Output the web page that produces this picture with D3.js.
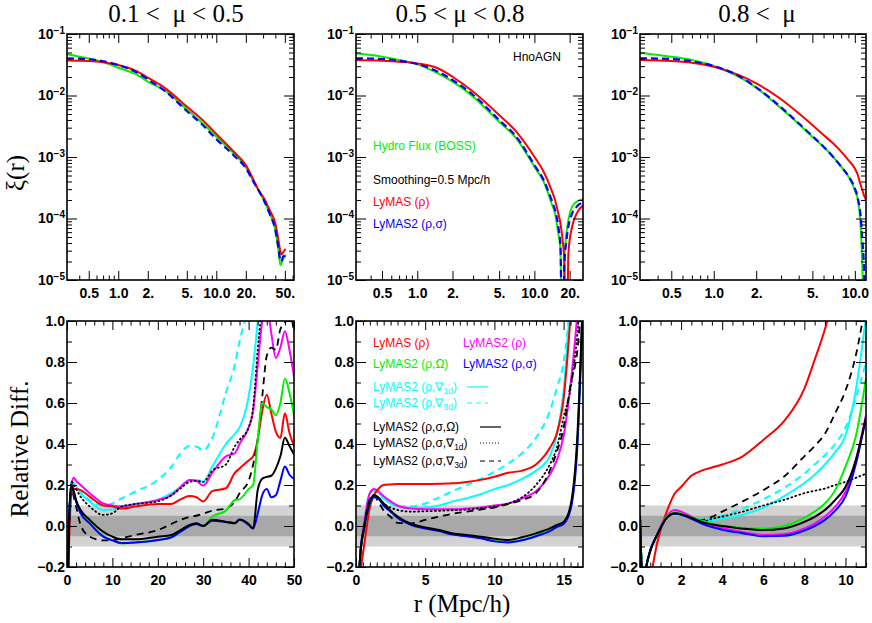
<!DOCTYPE html>
<html lang="en">
<head>
    <meta charset="UTF-8">
    <title>LyMAS: xi(r) and relative difference</title>
    <script src="https://cdnjs.cloudflare.com/ajax/libs/d3/7.8.5/d3.min.js" charset="utf-8"></script>
    <style>
        body { margin: 0; background: #fff; }
        svg { display: block; }
        .big { font-family: "Liberation Serif", "Times New Roman", serif; font-size: 25px; white-space: pre; }
        .leg { font-family: "Liberation Sans", Arial, Helvetica, sans-serif; font-size: 12px; }
    </style>
</head>
<body>
<svg id="chart" width="872" height="623"></svg>
<script>
    // ---------- panel titles and tick labels ----------
    var muTitles = ["0.1 <  \u03bc < 0.5", "0.5 < \u03bc < 0.8", "0.8 <  \u03bc"];
    var topXMax = [62, 26, 12];
    var topXTicks = [[0.5, 1, 2, 5, 10, 20, 50], [0.5, 1, 2, 5, 10, 20], [0.5, 1, 2, 5, 10]];
    var topXLabels = ["0.5", "1.0", "2.", "5.", "10.0", "20.", "50."];
    var logYTicks = [1e-5, 1e-4, 1e-3, 1e-2, 1e-1];
    var logYExp = ["\u22125", "\u22124", "\u22123", "\u22122", "\u22121"];
    var botXMax = [50, 16.4, 11];
    var botXTicks = [[0, 10, 20, 30, 40, 50], [0, 5, 10, 15], [0, 2, 4, 6, 8, 10]];
    var botXStep = [2, 0.5, 0.5];
    var relTicks = [-0.2, 0, 0.2, 0.4, 0.6, 0.8, 1.0];
    var relLabels = ["\u22120.2", "0.0", "0.2", "0.4", "0.6", "0.8", "1.0"];

    // ---------- top row: xi(r) ----------
    var rTop1 = [0.3, 0.5, 0.7, 1, 1.5, 2, 3, 5, 7, 10, 15, 20, 25, 28, 30, 35, 40, 43, 45, 46, 48, 50, 51];
    var hydroTop1 = [0.047, 0.040, 0.035, 0.0283, 0.0224, 0.0168, 0.0120, 0.00596, 0.0037, 0.00214, 0.00115, 6.9e-4, 3.5e-4, 2.6e-4, 2.1e-4, 1.2e-4, 6.5e-5, 3.1e-5, 1.75e-5, 1.85e-5, 2.2e-5, 2.4e-5, 2.6e-5];
    var lymasTop1 = [0.037, 0.0363, 0.0347, 0.0313, 0.0253, 0.0195, 0.0132, 0.0066, 0.0042, 0.00237, 0.00123, 7.4e-4, 3.7e-4, 2.6e-4, 2.26e-4, 1.38e-4, 8.3e-5, 4.5e-5, 2.9e-5, 2.6e-5, 2.8e-5, 3.1e-5, 3.2e-5];
    var lymas2Top1 = [0.040, 0.0389, 0.036, 0.0313, 0.0244, 0.0183, 0.0118, 0.0056, 0.0035, 0.00195, 0.00107, 6.6e-4, 3.5e-4, 2.6e-4, 2.1e-4, 1.2e-4, 6.5e-5, 3.3e-5, 2.1e-5, 2.0e-5, 2.4e-5, 2.5e-5, 2.8e-5];

    var rTop2 = [0.3, 0.5, 0.7, 1, 1.5, 2, 3, 5, 7, 10, 12, 14, 15, 16, 16.7, 17.4, 18, 18.8, 19.5, 21, 23, 27];
    var hydroTop2 = [0.0485, 0.0428, 0.0378, 0.0321, 0.0229, 0.0168, 0.00957, 0.00375, 0.00201, 6.97e-4, 3.97e-4, 1.77e-4, 1.21e-4, 5.7e-5, 3.1e-5, 1e-7, 2.1e-5, 5.7e-5, 9.5e-5, 1.56e-4, 1.88e-4, 2.1e-4];
    var lymasTop2 = [0.0378, 0.0368, 0.0355, 0.0333, 0.0277, 0.0202, 0.01153, 0.00482, 0.00258, 0.00101, 5.77e-4, 2.9e-4, 2.0e-4, 1.21e-4, 8.3e-5, 4.5e-5, 2.1e-5, 1e-7, 2.7e-5, 7.4e-5, 1.21e-4, 1.72e-4];
    var lymas2Top2 = [0.0402, 0.0392, 0.0368, 0.0325, 0.0244, 0.0179, 0.0102, 0.0040, 0.00214, 7.4e-4, 4.22e-4, 2.0e-4, 1.37e-4, 7.4e-5, 3.5e-5, 1e-7, 1.65e-5, 4.5e-5, 7.4e-5, 1.21e-4, 1.56e-4, 1.88e-4];

    var rTop3 = [0.3, 0.5, 0.7, 1, 1.5, 2, 3, 4, 5, 6, 7, 8, 9, 10, 10.5, 11, 11.3, 11.6, 12];
    var hydroTop3 = [0.0497, 0.0428, 0.0378, 0.0302, 0.0202, 0.0134, 0.00618, 0.00344, 0.00214, 0.00147, 0.00101, 6.97e-4, 4.8e-4, 2.9e-4, 2.0e-4, 7.4e-5, 1.65e-5, 1e-6, 1e-7];
    var lymasTop3 = [0.0378, 0.0364, 0.0342, 0.0294, 0.0216, 0.0158, 0.00867, 0.00513, 0.00331, 0.00228, 0.00167, 0.00122, 8.9e-4, 6.5e-4, 5.1e-4, 3.5e-4, 2.9e-4, 2.4e-4, 2.0e-4];
    var lymas2Top3 = [0.0402, 0.0392, 0.036, 0.0302, 0.0208, 0.0136, 0.00643, 0.00353, 0.00219, 0.00147, 0.00101, 6.97e-4, 4.9e-4, 3.1e-4, 2.13e-4, 1.07e-4, 4.5e-5, 1.65e-5, 1e-7];

    // ---------- bottom row: relative difference ----------
    var rBot1 = [0, 0.5, 1, 1.5, 2, 3, 5, 8, 10, 12, 15, 20, 23, 25, 27, 28.5, 30, 32, 35, 37, 38, 40, 41, 42, 43, 44, 45, 46, 47, 48, 49, 50];
    var relRed1 = [-0.5, -0.05, 0.16, 0.18, 0.18, 0.175, 0.143, 0.10, 0.095, 0.085, 0.095, 0.107, 0.107, 0.13, 0.146, 0.14, 0.12, 0.17, 0.184, 0.26, 0.28, 0.32, 0.34, 0.42, 0.56, 0.64, 0.55, 0.46, 0.43, 0.55, 0.455, 0.39];
    var relMag1 = [-0.5, 0.05, 0.2, 0.235, 0.22, 0.2, 0.16, 0.11, 0.1, 0.095, 0.107, 0.127, 0.15, 0.19, 0.225, 0.22, 0.197, 0.26, 0.34, 0.355, 0.4, 0.48, 0.56, 0.78, 1.0, 1.08, 0.94, 0.82, 0.87, 0.95, 0.86, 0.73];
    var relGreen1 = [-0.5, 0.05, 0.19, 0.16, 0.12, 0.065, 0.015, -0.05, -0.07, -0.085, -0.08, -0.07, -0.055, -0.03, 0.0, 0.01, 0.0, 0.046, 0.075, 0.127, 0.13, 0.18, 0.2, 0.42, 0.6, 0.58, 0.57, 0.54, 0.6, 0.72, 0.65, 0.54];
    var relBlue1 = [-0.5, 0.05, 0.19, 0.16, 0.12, 0.062, 0.013, -0.052, -0.07, -0.083, -0.08, -0.068, -0.055, -0.028, 0.0, 0.01, 0.0, 0.026, 0.02, 0.015, 0.032, 0.005, -0.012, 0.06, 0.15, 0.18, 0.14, 0.15, 0.22, 0.29, 0.25, 0.23];
    var relCyan1 = [-0.5, 0.05, 0.22, 0.21, 0.195, 0.16, 0.12, 0.078, 0.08, 0.09, 0.107, 0.127, 0.16, 0.19, 0.225, 0.225, 0.216, 0.29, 0.4, 0.45, 0.48, 0.63, 0.78, 1.0, 1.3, 1.5, 1.5, 1.5, 1.5, 1.5, 1.5, 1.5];
    var relCyan3d1 = [-0.5, 0.05, 0.215, 0.2, 0.19, 0.167, 0.127, 0.10, 0.11, 0.135, 0.167, 0.225, 0.29, 0.355, 0.39, 0.387, 0.37, 0.43, 0.65, 0.79, 0.9, 1.1, 1.3, 1.5, 1.5, 1.5, 1.5, 1.5, 1.5, 1.5, 1.5, 1.5];
    var relBlkO1 = [-0.5, 0.05, 0.2, 0.17, 0.127, 0.078, 0.03, -0.028, -0.052, -0.065, -0.065, -0.052, -0.044, -0.02, 0.005, 0.013, 0.0, 0.03, 0.02, 0.013, 0.03, 0.01, -0.012, 0.175, 0.23, 0.24, 0.245, 0.28, 0.34, 0.43, 0.39, 0.35];
    var relBlk1d1 = [-0.5, 0.05, 0.215, 0.2, 0.18, 0.143, 0.095, 0.054, 0.062, 0.095, 0.107, 0.12, 0.15, 0.183, 0.215, 0.22, 0.215, 0.27, 0.3, 0.39, 0.42, 0.48, 0.58, 0.86, 1.1, 1.5, 1.5, 1.5, 1.5, 1.5, 1.5, 1.5];
    var relBlk3d1 = [-0.5, 0.0, 0.18, 0.14, 0.095, 0.005, -0.052, -0.07, -0.07, -0.06, -0.044, -0.02, 0.01, 0.03, 0.045, 0.05, 0.06, 0.075, 0.086, 0.12, 0.16, 0.22, 0.3, 0.42, 0.63, 0.83, 0.87, 0.86, 0.96, 0.99, 1.05, 0.94];

    var rBot2 = [0, 0.3, 0.6, 1, 1.3, 1.6, 2, 2.5, 3, 4, 5, 6, 7, 8, 9, 10, 11, 12, 13, 14, 14.5, 15, 15.5, 16, 16.4];
    var relRed2 = [-0.6, -0.25, -0.09, 0.09, 0.15, 0.18, 0.2, 0.203, 0.205, 0.205, 0.205, 0.206, 0.208, 0.215, 0.225, 0.24, 0.26, 0.27, 0.3, 0.38, 0.45, 0.62, 1.02, 1.5, 2.0];
    var relMag2 = [-0.6, -0.15, 0.02, 0.16, 0.18, 0.17, 0.145, 0.12, 0.1, 0.085, 0.082, 0.082, 0.082, 0.085, 0.09, 0.1, 0.11, 0.135, 0.17, 0.25, 0.32, 0.44, 0.69, 1.05, 1.5];
    var relGreen2 = [-0.6, -0.15, -0.01, 0.11, 0.14, 0.135, 0.1, 0.072, 0.042, 0.008, -0.01, -0.022, -0.04, -0.048, -0.058, -0.073, -0.078, -0.068, -0.048, -0.022, -0.003, 0.015, 0.09, 0.42, 1.1];
    var relBlue2 = [-0.6, -0.15, -0.01, 0.11, 0.14, 0.135, 0.1, 0.07, 0.04, 0.005, -0.012, -0.025, -0.042, -0.05, -0.06, -0.075, -0.08, -0.07, -0.05, -0.025, -0.005, 0.01, 0.08, 0.4, 1.1];
    var relCyan2 = [-0.6, -0.15, 0.02, 0.16, 0.175, 0.165, 0.135, 0.11, 0.095, 0.087, 0.09, 0.1, 0.12, 0.135, 0.155, 0.18, 0.2, 0.23, 0.27, 0.34, 0.44, 0.66, 1.1, 1.5, 2.0];
    var relCyan3d2 = [-0.6, -0.15, 0.02, 0.16, 0.175, 0.165, 0.135, 0.11, 0.095, 0.095, 0.11, 0.14, 0.17, 0.2, 0.23, 0.265, 0.305, 0.355, 0.43, 0.56, 0.67, 0.8, 1.1, 1.5, 2.0];
    var relBlkO2 = [-0.6, -0.15, 0.0, 0.12, 0.15, 0.14, 0.11, 0.075, 0.046, 0.01, -0.007, -0.02, -0.036, -0.044, -0.052, -0.062, -0.068, -0.055, -0.036, -0.012, 0.005, 0.02, 0.1, 0.45, 1.15];
    var relBlk1d2 = [-0.6, -0.15, 0.0, 0.13, 0.15, 0.14, 0.11, 0.09, 0.078, 0.07, 0.072, 0.074, 0.077, 0.08, 0.087, 0.095, 0.11, 0.14, 0.2, 0.3, 0.38, 0.53, 0.67, 0.94, 1.3];
    var relBlk3d2 = [-0.6, -0.15, 0.0, 0.13, 0.15, 0.12, 0.075, 0.045, 0.015, 0.013, 0.03, 0.046, 0.06, 0.07, 0.08, 0.09, 0.107, 0.127, 0.16, 0.27, 0.36, 0.48, 0.69, 0.86, 1.2];

    var rBot3 = [0, 0.15, 0.3, 0.5, 0.8, 1, 1.3, 1.7, 2, 2.5, 3, 3.5, 4, 5, 6, 7, 8, 8.5, 9, 9.5, 10, 10.5, 11];
    var relRed3 = [-0.8, -0.6, -0.45, -0.28, -0.1, -0.02, 0.07, 0.16, 0.19, 0.245, 0.27, 0.285, 0.3, 0.34, 0.42, 0.51, 0.67, 0.81, 0.96, 1.15, 1.4, 1.7, 2.0];
    var relMag3 = [0.05, -0.3, -0.2, -0.12, -0.05, 0.0, 0.05, 0.078, 0.07, 0.046, 0.02, 0.005, -0.01, -0.03, -0.044, -0.04, -0.012, 0.012, 0.046, 0.094, 0.167, 0.32, 0.54];
    var relGreen3 = [0.05, -0.3, -0.2, -0.12, -0.05, -0.005, 0.045, 0.065, 0.06, 0.042, 0.026, 0.012, 0.002, -0.01, -0.013, 0.0, 0.04, 0.07, 0.11, 0.175, 0.29, 0.435, 0.72];
    var relBlue3 = [0.05, -0.3, -0.2, -0.12, -0.05, -0.01, 0.04, 0.06, 0.055, 0.035, 0.012, -0.005, -0.018, -0.035, -0.05, -0.048, -0.022, 0.0, 0.03, 0.075, 0.143, 0.3, 0.53];
    var relCyan3 = [0.05, -0.3, -0.2, -0.12, -0.05, 0.0, 0.05, 0.07, 0.062, 0.045, 0.03, 0.03, 0.036, 0.055, 0.09, 0.145, 0.21, 0.25, 0.3, 0.36, 0.44, 0.66, 1.02];
    var relCyan3d3 = [0.05, -0.3, -0.2, -0.12, -0.05, 0.0, 0.05, 0.07, 0.062, 0.045, 0.03, 0.035, 0.05, 0.085, 0.13, 0.185, 0.255, 0.3, 0.345, 0.4, 0.48, 0.62, 0.8];
    var relBlkO3 = [0.05, -0.3, -0.2, -0.12, -0.05, -0.01, 0.04, 0.062, 0.058, 0.04, 0.02, 0.008, 0.0, -0.013, -0.02, -0.012, 0.02, 0.045, 0.078, 0.127, 0.19, 0.32, 0.53];
    var relBlk1d3 = [0.05, -0.3, -0.2, -0.12, -0.05, -0.01, 0.04, 0.062, 0.058, 0.04, 0.02, 0.035, 0.046, 0.07, 0.1, 0.127, 0.16, 0.172, 0.183, 0.2, 0.215, 0.235, 0.255];
    var relBlk3d3 = [0.05, -0.3, -0.2, -0.12, -0.05, -0.01, 0.04, 0.06, 0.058, 0.04, 0.03, 0.045, 0.07, 0.12, 0.175, 0.24, 0.34, 0.39, 0.45, 0.55, 0.66, 0.83, 1.1];

    // ---------- layout ----------
    var svg = d3.select("#chart");
    var topY = [34, 280], botY = [321, 567];
    var cols = [[67, 294], [356, 583], [640, 866]];
    var titleX = [176, 460, 757];
    var sans = "'Liberation Sans', Arial, Helvetica, sans-serif";

    var topStyles = [
        {color: "#00ee00", width: 2},
        {color: "#ff0000", width: 2},
        {color: "#0000ff", width: 2.2, dash: "7,4"}
    ];
    // drawing order for the bottom row
    var botStyles = {
        cyan3d: {color: "#00ffff", width: 2, dash: "7,5"},
        cyan: {color: "#00ffff", width: 2},
        mag: {color: "#ff00ff", width: 2},
        red: {color: "#ff0000", width: 2},
        blk1d: {color: "#000", width: 1.8, dash: "1,3.2", cap: "round"},
        blk3d: {color: "#000", width: 1.8, dash: "7,5"},
        green: {color: "#00ee00", width: 2},
        blue: {color: "#0000ff", width: 2},
        blkO: {color: "#000", width: 2}
    };
    var botSets = [
        {r: rBot1, cyan3d: relCyan3d1, cyan: relCyan1, mag: relMag1, red: relRed1, blk1d: relBlk1d1, blk3d: relBlk3d1, green: relGreen1, blue: relBlue1, blkO: relBlkO1},
        {r: rBot2, cyan3d: relCyan3d2, cyan: relCyan2, mag: relMag2, red: relRed2, blk1d: relBlk1d2, blk3d: relBlk3d2, green: relGreen2, blue: relBlue2, blkO: relBlkO2},
        {r: rBot3, cyan3d: relCyan3d3, cyan: relCyan3, mag: relMag3, red: relRed3, blk1d: relBlk1d3, blk3d: relBlk3d3, green: relGreen3, blue: relBlue3, blkO: relBlkO3}
    ];
    var topSets = [
        {r: rTop1, s: [hydroTop1, lymasTop1, lymas2Top1]},
        {r: rTop2, s: [hydroTop2, lymasTop2, lymas2Top2]},
        {r: rTop3, s: [hydroTop3, lymasTop3, lymas2Top3]}
    ];

    function logMinor(dom, major) {
        var out = [];
        for (var e = -6; e <= 2; e++) {
            for (var m = 1; m <= 9; m++) {
                var v = +(m * Math.pow(10, e)).toPrecision(6);
                if (v > dom[0] * 1.001 && v < dom[1] * 0.999 && major.indexOf(v) < 0) out.push(v);
            }
        }
        return out;
    }
    function linMinor(lo, hi, step, major) {
        return d3.range(lo, hi + 1e-9, step).map(function (v) { return +v.toFixed(4); })
            .filter(function (v) { return major.indexOf(v) < 0; });
    }

    function styleAxis(sel) {
        sel.attr("font-family", sans).attr("font-size", 14).attr("font-weight", "bold");
        sel.select(".domain").remove();
        sel.selectAll("line").attr("stroke", "#000");
    }

    // ticks on all four sides, pointing in, labels left and bottom
    function drawAxes(g, x, y, o) {
        var xr = x.range(), yr = y.range();
        g.append("g").attr("transform", "translate(0," + yr[0] + ")")
            .call(d3.axisBottom(x).tickValues(o.xMajor).tickSizeInner(-9).tickSizeOuter(0).tickPadding(8).tickFormat(o.xFmt))
            .call(styleAxis);
        g.append("g").attr("transform", "translate(0," + yr[0] + ")")
            .call(d3.axisBottom(x).tickValues(o.xMinor).tickSizeInner(-4.5).tickSizeOuter(0).tickFormat(""))
            .call(styleAxis);
        g.append("g").attr("transform", "translate(0," + yr[1] + ")")
            .call(d3.axisTop(x).tickValues(o.xMajor).tickSizeInner(-9).tickSizeOuter(0).tickFormat(""))
            .call(styleAxis);
        g.append("g").attr("transform", "translate(0," + yr[1] + ")")
            .call(d3.axisTop(x).tickValues(o.xMinor).tickSizeInner(-4.5).tickSizeOuter(0).tickFormat(""))
            .call(styleAxis);
        var gy = g.append("g").attr("transform", "translate(" + xr[0] + ",0)")
            .call(d3.axisLeft(y).tickValues(o.yMajor).tickSizeInner(-10).tickSizeOuter(0).tickPadding(2).tickFormat(o.yFmt))
            .call(styleAxis);
        g.append("g").attr("transform", "translate(" + xr[0] + ",0)")
            .call(d3.axisLeft(y).tickValues(o.yMinor).tickSizeInner(-5).tickSizeOuter(0).tickFormat(""))
            .call(styleAxis);
        g.append("g").attr("transform", "translate(" + xr[1] + ",0)")
            .call(d3.axisRight(y).tickValues(o.yMajor).tickSizeInner(-10).tickSizeOuter(0).tickFormat(""))
            .call(styleAxis);
        g.append("g").attr("transform", "translate(" + xr[1] + ",0)")
            .call(d3.axisRight(y).tickValues(o.yMinor).tickSizeInner(-5).tickSizeOuter(0).tickFormat(""))
            .call(styleAxis);
        return gy;
    }

    function drawLine(g, x, y, rs, vals, st, clipId) {
        var line = d3.line()
            .x(function (d) { return x(d[0]); })
            .y(function (d) { return y(d[1]); })
            .curve(d3.curveMonotoneX);
        g.append("path")
            .datum(rs.map(function (r, i) { return [r, vals[i]]; }))
            .attr("clip-path", "url(#" + clipId + ")")
            .attr("d", line)
            .attr("fill", "none")
            .attr("stroke", st.color)
            .attr("stroke-width", st.width)
            .attr("stroke-dasharray", st.dash || null)
            .attr("stroke-linecap", st.cap || "butt");
    }

    function clip(id, x0, x1, y0, y1) {
        svg.append("clipPath").attr("id", id).append("rect")
            .attr("x", x0).attr("y", y0).attr("width", x1 - x0).attr("height", y1 - y0);
    }

    // ---------- top row ----------
    topSets.forEach(function (set, k) {
        var c = cols[k];
        var g = svg.append("g");
        var x = d3.scaleLog().domain([0.3, topXMax[k]]).range(c);
        var y = d3.scaleLog().domain([1e-5, 1e-1]).range([topY[1], topY[0]]);
        var id = "clipTop" + k;
        clip(id, c[0], c[1], topY[0], topY[1]);

        set.s.forEach(function (vals, j) {
            drawLine(g, x, y, set.r, vals, topStyles[j], id);
        });

        var gy = drawAxes(g, x, y, {
            xMajor: topXTicks[k],
            xMinor: logMinor([0.3, topXMax[k]], topXTicks[k]),
            xFmt: function (d) { return topXLabels[topXTicks[0].indexOf(d)]; },
            yMajor: logYTicks,
            yMinor: logMinor([1e-5, 1e-1], logYTicks),
            yFmt: function () { return "10"; }
        });
        gy.selectAll(".tick text").append("tspan")
            .attr("dy", "-0.5em").attr("font-size", 10)
            .text(function (d) { return logYExp[logYTicks.indexOf(d)]; });

        g.append("rect").attr("x", c[0]).attr("y", topY[0])
            .attr("width", c[1] - c[0]).attr("height", topY[1] - topY[0])
            .attr("fill", "none").attr("stroke", "#000").attr("stroke-width", 1.6);

        svg.append("text").attr("class", "big").attr("x", titleX[k]).attr("y", 22)
            .attr("text-anchor", "middle").text(muTitles[k]);
    });

    // ---------- bottom row ----------
    var order = ["cyan3d", "cyan", "mag", "red", "blk1d", "blk3d", "green", "blue", "blkO"];
    botSets.forEach(function (set, k) {
        var c = cols[k];
        var g = svg.append("g");
        var x = d3.scaleLinear().domain([0, botXMax[k]]).range(c);
        var y = d3.scaleLinear().domain([-0.2, 1.0]).range([botY[1], botY[0]]);
        var id = "clipBot" + k;
        clip(id, c[0], c[1], botY[0], botY[1]);

        g.append("rect").attr("x", c[0]).attr("width", c[1] - c[0])
            .attr("y", y(0.1)).attr("height", y(-0.1) - y(0.1)).attr("fill", "#d3d3d3");
        g.append("rect").attr("x", c[0]).attr("width", c[1] - c[0])
            .attr("y", y(0.05)).attr("height", y(-0.05) - y(0.05)).attr("fill", "#a8a8a8");

        order.forEach(function (key) {
            drawLine(g, x, y, set.r, set[key], botStyles[key], id);
        });

        drawAxes(g, x, y, {
            xMajor: botXTicks[k],
            xMinor: linMinor(0, botXMax[k], botXStep[k], botXTicks[k]),
            xFmt: function (d) { return String(d); },
            yMajor: relTicks,
            yMinor: linMinor(-0.2, 1.0, 0.1, relTicks),
            yFmt: function (d) { return relLabels[relTicks.indexOf(d)]; }
        });

        g.append("rect").attr("x", c[0]).attr("y", botY[0])
            .attr("width", c[1] - c[0]).attr("height", botY[1] - botY[0])
            .attr("fill", "none").attr("stroke", "#000").attr("stroke-width", 1.6);
    });

    // ---------- axis titles ----------
    svg.append("text").attr("class", "big").attr("transform", "translate(24,173) rotate(-90)")
        .attr("text-anchor", "middle").text("\u03be(r)");
    svg.append("text").attr("class", "big").attr("transform", "translate(28,449) rotate(-90)")
        .attr("text-anchor", "middle").text("Relative Diff.");
    svg.append("text").attr("class", "big").attr("x", 462).attr("y", 612)
        .attr("text-anchor", "middle").text("r (Mpc/h)");

    // ---------- legends ----------
    function label(x, y, color, pre, sub, post) {
        var t = svg.append("text").attr("class", "leg").attr("x", x).attr("y", y).attr("fill", color).text(pre);
        if (sub) {
            t.append("tspan").attr("dy", 3).attr("font-size", 8.5).text(sub);
            t.append("tspan").attr("dy", -3).text(post);
        }
        return t;
    }
    function sample(x0, x1, y, st) {
        svg.append("line").attr("x1", x0).attr("x2", x1).attr("y1", y).attr("y2", y)
            .attr("stroke", st.color).attr("stroke-width", 1.2)
            .attr("stroke-dasharray", st.dash || null).attr("stroke-linecap", st.cap || "butt");
    }

    label(513, 61, "#000", "HnoAGN");
    label(373, 150, "#00ee00", "Hydro Flux (BOSS)");
    label(373, 184, "#000", "Smoothing=0.5 Mpc/h");
    label(373, 206, "#ff0000", "LyMAS (\u03c1)");
    label(373, 228, "#0000ff", "LyMAS2 (\u03c1,\u03c3)");

    label(373, 347, "#ff0000", "LyMAS (\u03c1)");
    label(463, 347, "#ff00ff", "LyMAS2 (\u03c1)");
    label(373, 368, "#00ee00", "LyMAS2 (\u03c1,\u03a9)");
    label(463, 368, "#0000ff", "LyMAS2 (\u03c1,\u03c3)");
    label(373, 391, "#00ffff", "LyMAS2 (\u03c1,\u2207", "1d", ")");
    sample(467, 488, 387, botStyles.cyan);
    label(373, 407, "#00ffff", "LyMAS2 (\u03c1,\u2207", "3d", ")");
    sample(467, 488, 403, {color: "#00ffff", dash: "5,4"});
    label(373, 431, "#000", "LyMAS2 (\u03c1,\u03c3,\u03a9)");
    sample(480, 501, 427, botStyles.blkO);
    label(373, 447, "#000", "LyMAS2 (\u03c1,\u03c3,\u2207", "1d", ")");
    sample(480, 501, 443, {color: "#000", dash: "1,2"});
    label(373, 465, "#000", "LyMAS2 (\u03c1,\u03c3,\u2207", "3d", ")");
    sample(480, 501, 461, {color: "#000", dash: "5,4"});
</script>
</body>
</html>
